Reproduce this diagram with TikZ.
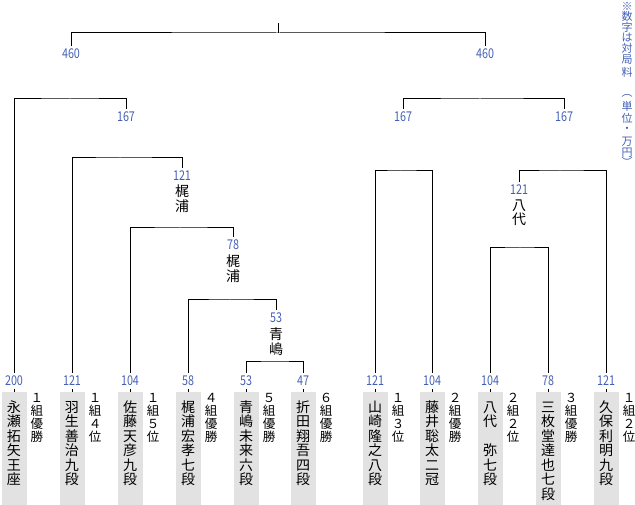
\documentclass[tikz,border=0pt]{standalone}
\usepackage{fontspec}
\setmainfont{Noto Sans CJK JP}
\newfontfamily\numfont[FakeStretch=0.8]{Noto Sans CJK JP}
\definecolor{numblue}{RGB}{68,96,180}
\definecolor{boxgrey}{RGB}{226,226,226}
\newcommand{\pname}[1]{\parbox[t][113pt][t]{25pt}{\centering\fontsize{14}{14.5}\selectfont\rule{0pt}{20pt}#1}}
\newcommand{\vstack}[4]{\parbox{#1}{\centering\fontsize{#2}{#3}\selectfont\lineskiplimit=-20pt\relax\lineskip=0pt\relax\parskip=0pt\relax #4}}
\tikzset{
  num/.style={font=\numfont\fontsize{13.5}{14}\selectfont, text=numblue, inner xsep=1pt, inner ysep=3pt, text height=9.5pt, text depth=0pt},
  pbox/.style={fill=boxgrey, inner sep=0pt, anchor=north},
  anno/.style={anchor=north, inner sep=0pt},
  wname/.style={anchor=north, inner sep=0pt},
  topnote/.style={text=numblue, font=\fontsize{11}{11}\selectfont, anchor=center, inner sep=0pt},
  link/.style={line width=1pt}
}
\newcommand{\player}[5]{%
  \node[num] (n#1) at (#2,381) {#3};
  \node[pbox] (p#1) at (#2,392) {\pname{#4}};
  \node[anno] (a#1) at ({#2+23},393) {\vstack{16pt}{12.5}{13}{#5}};
  \draw[link] (n#1.south) -- (p#1.north);
}
\begin{document}
\begin{tikzpicture}[x=1pt,y=-1pt]
\useasboundingbox (0,0) rectangle (635,505);

% players
\player{1}{14}{200}{永\\瀬\\拓\\矢\\王\\座}{１\\組\\優\\勝}
\player{2}{72}{121}{羽\\生\\善\\治\\九\\段}{１\\組\\４\\位}
\player{3}{130}{104}{佐\\藤\\天\\彦\\九\\段}{１\\組\\５\\位}
\player{4}{188}{58}{梶\\浦\\宏\\孝\\七\\段}{４\\組\\優\\勝}
\player{5}{246}{53}{青\\嶋\\未\\来\\六\\段}{５\\組\\優\\勝}
\player{6}{303}{47}{折\\田\\翔\\吾\\四\\段}{６\\組\\優\\勝}
\player{7}{375}{121}{山\\崎\\隆\\之\\八\\段}{１\\組\\３\\位}
\player{8}{432}{104}{藤\\井\\聡\\太\\二\\冠}{２\\組\\優\\勝}
\player{9}{490}{104}{八\\代\\　\\弥\\七\\段}{２\\組\\２\\位}
\player{10}{548}{78}{三\\枚\\堂\\達\\也\\七\\段}{３\\組\\優\\勝}
\player{11}{606}{121}{久\\保\\利\\明\\九\\段}{１\\組\\２\\位}

% winner labels
\node[num] (L460) at (71,54) {460};
\node[num] (R460) at (485,54) {460};
\node[num] (c167) at (126,116.5) {167};
\node[num] (d167) at (403,117) {167};
\node[num] (e167) at (564,117) {167};
\node[num] (f121) at (182,176) {121};
\node[wname] (fw) at (182,185) {\vstack{16pt}{14}{15}{梶\\浦}};
\node[num] (g78) at (233,244.5) {78};
\node[wname] (gw) at (233,255) {\vstack{16pt}{14}{15}{梶\\浦}};
\node[num] (h53) at (276,317.5) {53};
\node[wname] (hw) at (276,328) {\vstack{16pt}{14}{15}{青\\嶋}};
\node[num] (i121) at (519,190) {121};
\node[wname] (iw) at (519,200) {\vstack{16pt}{14}{14}{八\\代}};

% note (vertical, one character per node)
\foreach \c/\y [count=\i] in {※/6, 数/16.5, 字/27.5, は/37.5, 対/48, 局/60, 料/72.5, ︵/95.5, 単/106, 位/118, ・/129.5, 万/142, 円/153, ︶/162}
  \node[topnote] (note\i) at (627,\y) {\c};

% brackets
\coordinate (t0) at (278,23);
\coordinate (t1) at (278,33);
\draw[link] (t0) -- (t1);
\draw[link] (L460.north) |- (t1) -| (R460.north);
\coordinate (k1) at (70,99);
\draw[link] (n1.north) |- (k1) -| (c167.north);
\coordinate (k2) at (480,99);
\draw[link] (d167.north) |- (k2) -| (e167.north);
\coordinate (k3) at (120,158);
\draw[link] (n2.north) |- (k3) -| (f121.north);
\coordinate (k4) at (180,228);
\draw[link] (n3.north) |- (k4) -| (g78.north);
\coordinate (k5) at (230,300);
\draw[link] (n4.north) |- (k5) -| (h53.north);
\coordinate (k6) at (275,361);
\draw[link] (n5.north) |- (k6) -| (n6.north);
\coordinate (k7) at (400,171);
\draw[link] (n7.north) |- (k7) -| (n8.north);
\coordinate (k8) at (560,171);
\draw[link] (i121.north) |- (k8) -| (n11.north);
\coordinate (k9) at (520,248);
\draw[link] (n9.north) |- (k9) -| (n10.north);
\end{tikzpicture}
\end{document}
